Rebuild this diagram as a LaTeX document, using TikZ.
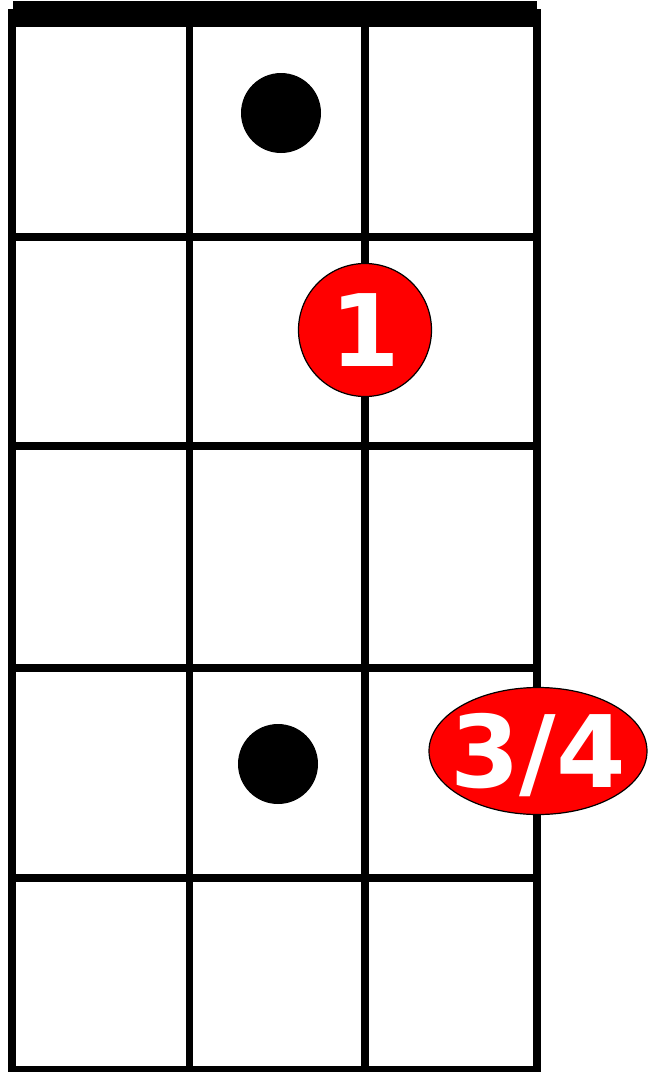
\documentclass[tikz,border=0pt]{standalone}
\usepackage{fontspec}
\setsansfont{DejaVu Sans}
\usetikzlibrary{shapes.geometric}
\tikzset{
  string/.style={line width=7.6pt}, % the strings of the neck
  fret/.style={line width=7.2pt}, % the frets across it
  marker/.style={circle, fill=black, inner sep=0pt, minimum size=80pt}, % inlay dots
  finger/.style={fill=red, draw=black, line width=1.2pt, inner sep=0pt,
    text=white, font=\sffamily\bfseries\fontsize{100}{100}\selectfont}, % fingering
}

\begin{document}
\begin{tikzpicture}[x=1pt,y=-1pt]
    \useasboundingbox (0,0) rectangle (650,1072);

    % nut
    \fill (13,1) rectangle (537,27);
    % strings and frets
    \foreach \x in {12,189.5,365,537}
      \draw[string] (\x,9) -- (\x,1076);
    \foreach \y in {237,446,668,878,1070}
      \draw[fret] (12,\y) -- (537,\y);

    \node[marker] (dot_1) at (281,113) {};
    \node[marker] (dot_4) at (278,764) {};

    \node[finger, circle, minimum size=133pt] (finger_1) at (365,330) {1};
    \node[finger, ellipse, minimum width=218pt, minimum height=127pt]
      (finger_34) at (538,751) {};
    \node[finger, fill=none, draw=none, yshift=-4pt] (finger_34_text) at (finger_34) {3/4};
\end{tikzpicture}
\end{document}
